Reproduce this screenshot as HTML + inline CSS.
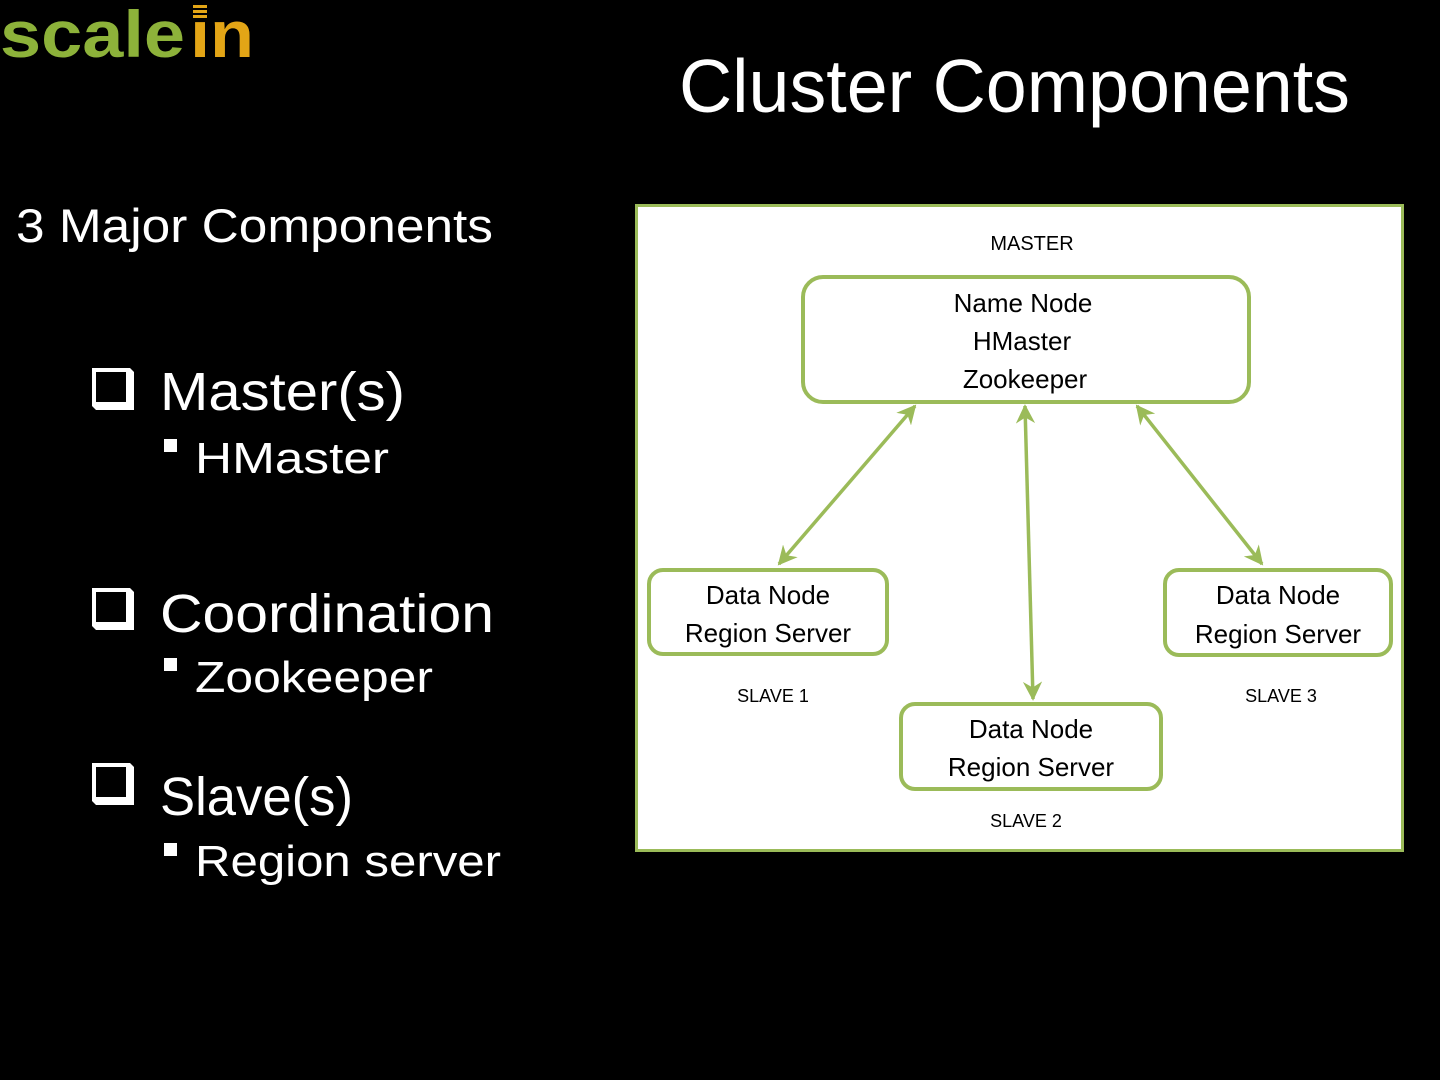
<!DOCTYPE html>
<html><head><meta charset="utf-8"><style>
html,body{margin:0;padding:0;background:#000;width:1440px;height:1080px;overflow:hidden}
svg{display:block}
text{font-family:"Liberation Sans",sans-serif}
</style></head><body>
<svg width="1440" height="1080" viewBox="0 0 1440 1080" xmlns="http://www.w3.org/2000/svg">
<defs>
<marker id="ah" viewBox="0 0 10 10" refX="9" refY="5" markerWidth="5.5" markerHeight="5.5" orient="auto-start-reverse" markerUnits="strokeWidth">
<path d="M0,0 L10,5 L0,10 L3,5 z" fill="#9bbb59"/>
</marker>
</defs>
<rect width="1440" height="1080" fill="#000"/>
<!-- logo -->
<text x="0" y="57" font-size="66" font-weight="bold" fill="#8db23a" textLength="185" lengthAdjust="spacingAndGlyphs">scale</text>
<text x="190" y="57" font-size="66" font-weight="bold" fill="#e3a516" textLength="64" lengthAdjust="spacingAndGlyphs">ın</text>
<rect x="193" y="5" width="14" height="3" fill="#e3a516"/>
<rect x="193" y="10" width="14" height="3" fill="#e3a516"/>
<rect x="193" y="15" width="14" height="3" fill="#e3a516"/>
<!-- title -->
<text x="679" y="112" font-size="75" fill="#fff" textLength="671" lengthAdjust="spacingAndGlyphs">Cluster Components</text>
<text x="16" y="242" font-size="47" fill="#fff" textLength="477" lengthAdjust="spacingAndGlyphs">3 Major Components</text>
<!-- bullets -->
<g fill="#fff">
<g>
<path d="M92,368 h38 v38 h-38 z M96,372 v30 h30 v-30 z" fill-rule="evenodd"/>
<path d="M92,406 l4,4 h38 v-38 l-4,-4 v38 z"/>
</g>
<g transform="translate(0,220)">
<path d="M92,368 h38 v38 h-38 z M96,372 v30 h30 v-30 z" fill-rule="evenodd"/>
<path d="M92,406 l4,4 h38 v-38 l-4,-4 v38 z"/>
</g>
<g transform="translate(0,395)">
<path d="M92,368 h38 v38 h-38 z M96,372 v30 h30 v-30 z" fill-rule="evenodd"/>
<path d="M92,406 l4,4 h38 v-38 l-4,-4 v38 z"/>
</g>
<rect x="164" y="439" width="13" height="13"/>
<rect x="164" y="658" width="13" height="13"/>
<rect x="164" y="843" width="13" height="13"/>
</g>
<g fill="#fff">
<text x="160" y="410" font-size="54" textLength="245" lengthAdjust="spacingAndGlyphs">Master(s)</text>
<text x="195" y="473" font-size="44" textLength="194" lengthAdjust="spacingAndGlyphs">HMaster</text>
<text x="160" y="632" font-size="54" textLength="334" lengthAdjust="spacingAndGlyphs">Coordination</text>
<text x="195" y="692" font-size="44" textLength="238" lengthAdjust="spacingAndGlyphs">Zookeeper</text>
<text x="160" y="815" font-size="54" textLength="193" lengthAdjust="spacingAndGlyphs">Slave(s)</text>
<text x="195" y="876" font-size="44" textLength="306" lengthAdjust="spacingAndGlyphs">Region server</text>
</g>
<!-- diagram panel -->
<rect x="636.5" y="205.5" width="766" height="645" fill="#fff" stroke="#9bbb59" stroke-width="3"/>
<g fill="#fff" stroke="#9bbb59" stroke-width="4">
<rect x="803" y="277" width="446" height="125" rx="20"/>
<rect x="649" y="570" width="238" height="84" rx="14"/>
<rect x="1165" y="570" width="226" height="85" rx="14"/>
<rect x="901" y="704" width="260" height="85" rx="14"/>
</g>
<g stroke="#9bbb59" stroke-width="3.5" fill="none">
<line x1="915" y1="406" x2="779" y2="564" marker-start="url(#ah)" marker-end="url(#ah)"/>
<line x1="1025" y1="406" x2="1033" y2="699" marker-start="url(#ah)" marker-end="url(#ah)"/>
<line x1="1137" y1="406" x2="1262" y2="564" marker-start="url(#ah)" marker-end="url(#ah)"/>
</g>
<g fill="#000" text-anchor="middle">
<text x="1032" y="250" font-size="20">MASTER</text>
<text x="1023" y="312" font-size="26">Name Node</text>
<text x="1022" y="350" font-size="26">HMaster</text>
<text x="1025" y="388" font-size="26">Zookeeper</text>
<text x="768" y="604" font-size="26">Data Node</text>
<text x="768" y="642" font-size="26">Region Server</text>
<text x="1278" y="604" font-size="26">Data Node</text>
<text x="1278" y="643" font-size="26">Region Server</text>
<text x="1031" y="738" font-size="26">Data Node</text>
<text x="1031" y="776" font-size="26">Region Server</text>
<text x="773" y="702" font-size="18">SLAVE 1</text>
<text x="1281" y="702" font-size="18">SLAVE 3</text>
<text x="1026" y="827" font-size="18">SLAVE 2</text>
</g>
</svg>
</body></html>
